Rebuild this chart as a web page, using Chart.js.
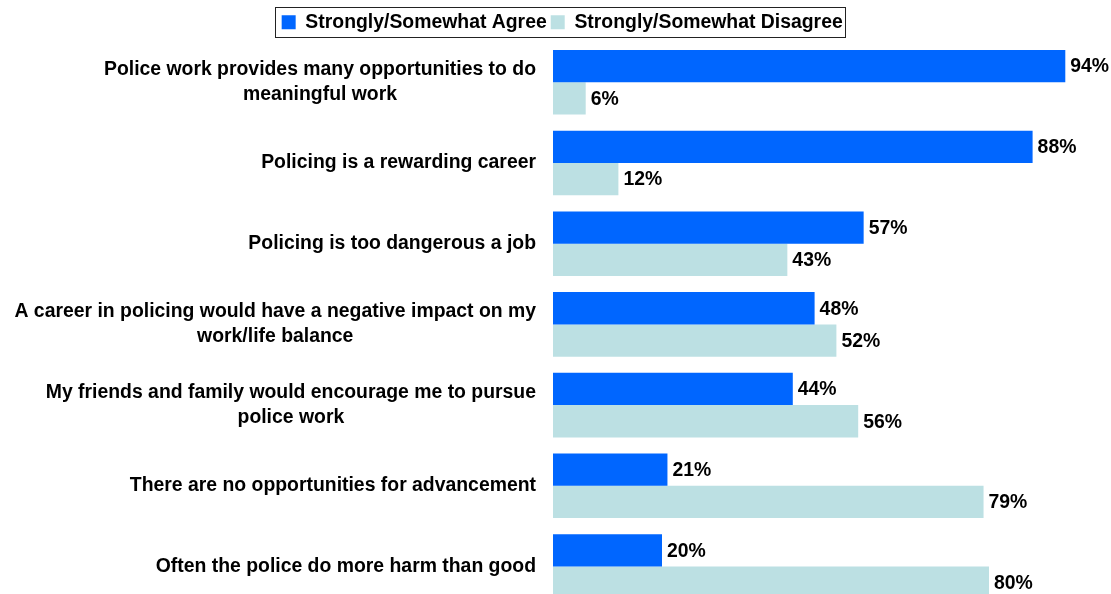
<!DOCTYPE html>
<html>
<head>
<meta charset="utf-8">
<style>
  html, body { margin: 0; padding: 0; background: #fff; overflow: hidden; }
  canvas { display: block; }
</style>
<script src="https://cdn.jsdelivr.net/npm/chart.js@4/dist/chart.umd.min.js"></script>
</head>
<body>
<canvas id="chart" width="1111" height="620"></canvas>
<script>
// Survey statements (each entry = lines of the wrapped label)
const categories = [
  ["Police work provides many opportunities to do", "meaningful work"],
  ["Policing is a rewarding career"],
  ["Policing is too dangerous a job"],
  ["A career in policing would have a negative impact on my", "work/life balance"],
  ["My friends and family would encourage me to pursue", "police work"],
  ["There are no opportunities for advancement"],
  ["Often the police do more harm than good"]
];
const seriesNames = ["Strongly/Somewhat Agree", "Strongly/Somewhat Disagree"];
const agreeValues = [94, 88, 57, 48, 44, 21, 20];
const disagreeValues = [6, 12, 43, 52, 56, 79, 80];

const FONT = "'Liberation Sans', Arial, Helvetica, sans-serif";
const FONT_SIZE = 19.4;
const BLUE = "#0066FF";
const PALE = "#BCE0E3";

// Wrapped, centred statement labels to the left of the bars
const categoryLabels = {
  id: "categoryLabels",
  afterDraw(chart) {
    const ctx = chart.ctx;
    const y = chart.scales.y;
    const rightEdge = chart.chartArea.left - 17;
    const lineGap = 24.5;
    ctx.save();
    ctx.font = `bold ${FONT_SIZE}px ${FONT}`;
    ctx.fillStyle = "#000";
    ctx.textAlign = "center";
    ctx.textBaseline = "middle";
    categories.forEach((lines, i) => {
      const cy = y.getPixelForValue(i);
      const maxW = Math.max(...lines.map(l => ctx.measureText(l).width));
      const cx = rightEdge - maxW / 2;
      const startY = cy - (lines.length - 1) * lineGap / 2;
      lines.forEach((line, j) => ctx.fillText(line, cx, startY + j * lineGap));
    });
    ctx.restore();
  }
};

// Percentage labels at the end of each bar
const valueLabels = {
  id: "valueLabels",
  afterDatasetsDraw(chart) {
    const ctx = chart.ctx;
    ctx.save();
    ctx.font = `bold ${FONT_SIZE}px ${FONT}`;
    ctx.fillStyle = "#000";
    ctx.textAlign = "left";
    ctx.textBaseline = "middle";
    chart.data.datasets.forEach((ds, di) => {
      chart.getDatasetMeta(di).data.forEach((bar, i) => {
        ctx.fillText(ds.data[i] + "%", bar.x + 5, bar.y + 1);
      });
    });
    ctx.restore();
  }
};

// Thin frame around the legend row
const legendFrame = {
  id: "legendFrame",
  afterDraw(chart) {
    const lg = chart.legend;
    if (!lg || !lg.legendHitBoxes || !lg.legendHitBoxes.length) return;
    const boxes = lg.legendHitBoxes;
    const first = boxes[0];
    const last = boxes[boxes.length - 1];
    const left = Math.round(first.left - 7) + 0.5;
    const right = Math.round(last.left + last.width + 2) + 0.5;
    const top = Math.round(first.top - 6) + 0.5;
    const bottom = Math.round(first.top + first.height + 5) + 0.5;
    const ctx = chart.ctx;
    ctx.save();
    ctx.strokeStyle = "#222";
    ctx.lineWidth = 1;
    ctx.strokeRect(left, top, right - left, bottom - top);
    ctx.restore();
  }
};

new Chart(document.getElementById("chart"), {
  type: "bar",
  data: {
    labels: categories,
    datasets: [
      { label: seriesNames[0], data: agreeValues, backgroundColor: BLUE,
        categoryPercentage: 0.8, barPercentage: 1.0 },
      { label: seriesNames[1], data: disagreeValues, backgroundColor: PALE,
        categoryPercentage: 0.8, barPercentage: 1.0 }
    ]
  },
  options: {
    indexAxis: "y",
    responsive: false,
    animation: false,
    layout: { padding: { top: 8.5, left: 26.4, right: 13, bottom: 13.1 } },
    scales: {
      x: { display: false, min: 0, max: 100 },
      y: {
        display: true,
        grid: { display: false },
        border: { display: false },
        ticks: { display: false },
        afterFit(scale) { scale.width = 553 - 26.4; }
      }
    },
    plugins: {
      tooltip: { enabled: false },
      legend: {
        position: "top",
        labels: {
          color: "#000",
          font: { family: FONT, weight: "bold", size: FONT_SIZE },
          boxWidth: 14,
          boxHeight: 14,
          padding: 4
        }
      }
    }
  },
  plugins: [categoryLabels, valueLabels, legendFrame]
});
</script>
</body>
</html>
